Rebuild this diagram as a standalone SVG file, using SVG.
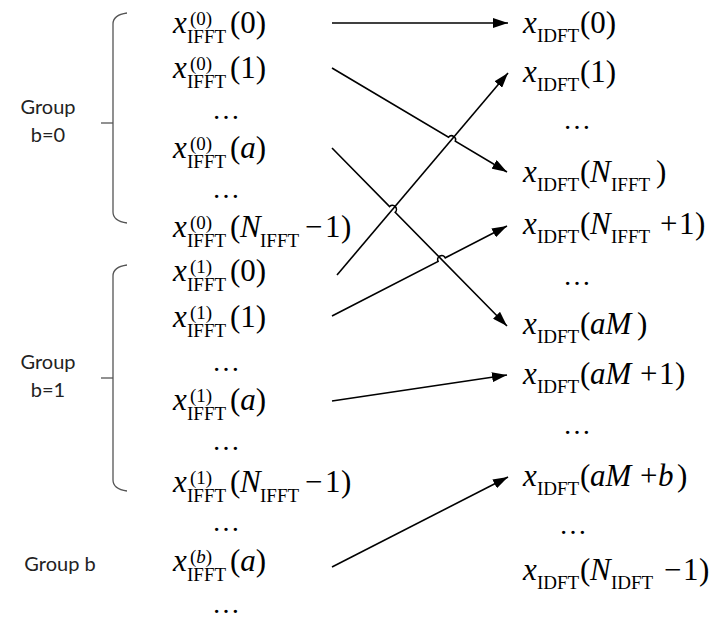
<svg xmlns="http://www.w3.org/2000/svg" width="712" height="621" viewBox="0 0 712 621">
<style>
.m{font-size:31px;fill:#000}
.s{font-size:19px;fill:#000}
.i{font-style:italic}
.d{font-size:28px;fill:#000;text-anchor:middle}
.g{font-size:20px;fill:#222;text-anchor:middle}
.br{fill:none;stroke:#555;stroke-width:1.3}
.c{fill:none;stroke:#000;stroke-width:1.6}
</style>
<defs>
<marker id="ah" markerUnits="userSpaceOnUse" markerWidth="16" markerHeight="10" refX="15" refY="5" orient="auto">
<path d="M0,0 L15,5 L0,10 z" fill="#000"/>
</marker>
</defs>
<rect width="712" height="621" fill="#fff"/>

<g id="group0" font-family="Lato, Open Sans, sans-serif">
<path class="br" d="M127,13 Q113,15 113,24 L113,212 Q113,221 127,223"/>
<line class="br" x1="101" y1="123" x2="113" y2="123"/>
<text class="g" x="48" y="114">Group</text>
<text class="g" x="48" y="142">b=0</text>
</g>
<g id="group1" font-family="Lato, Open Sans, sans-serif">
<path class="br" d="M127,265 Q113,267 113,276 L113,480 Q113,489 127,491"/>
<line class="br" x1="101" y1="378" x2="113" y2="378"/>
<text class="g" x="48" y="369">Group</text>
<text class="g" x="48" y="397">b=1</text>
</g>
<g id="groupb" font-family="Lato, Open Sans, sans-serif">
<text class="g" x="60" y="571">Group b</text>
</g>

<g font-family="Liberation Serif, Times New Roman, serif">
<g id="L0_0"><text class="m i" x="173" y="33">x</text><text class="s" x="190" y="25">(0)</text><text class="s" x="187" y="43">IFFT</text><text class="m" x="230" y="33">(0)</text></g>
<g id="L0_1"><text class="m i" x="173" y="78">x</text><text class="s" x="190" y="70">(0)</text><text class="s" x="187" y="88">IFFT</text><text class="m" x="230" y="78">(1)</text></g>
<text class="d" x="226" y="119">…</text>
<g id="L0_a"><text class="m i" x="173" y="158">x</text><text class="s" x="190" y="150">(0)</text><text class="s" x="187" y="168">IFFT</text><text class="m" x="230" y="158">(<tspan class="i">a</tspan>)</text></g>
<text class="d" x="226" y="198">…</text>
<g id="L0_N"><text class="m i" x="173" y="237">x</text><text class="s" x="190" y="229">(0)</text><text class="s" x="187" y="247">IFFT</text><text class="m" x="230" y="237">(</text><text class="m i" x="240" y="237">N</text><text class="s" x="260" y="247">IFFT</text><text class="m" x="305" y="237">−</text><text class="m" x="325" y="237">1</text><text class="m" x="341" y="237">)</text></g>

<g id="L1_0"><text class="m i" x="173" y="281">x</text><text class="s" x="190" y="273">(1)</text><text class="s" x="187" y="291">IFFT</text><text class="m" x="230" y="281">(0)</text></g>
<g id="L1_1"><text class="m i" x="173" y="327">x</text><text class="s" x="190" y="319">(1)</text><text class="s" x="187" y="337">IFFT</text><text class="m" x="230" y="327">(1)</text></g>
<text class="d" x="226" y="371">…</text>
<g id="L1_a"><text class="m i" x="173" y="410">x</text><text class="s" x="190" y="402">(1)</text><text class="s" x="187" y="420">IFFT</text><text class="m" x="230" y="410">(<tspan class="i">a</tspan>)</text></g>
<text class="d" x="226" y="450">…</text>
<g id="L1_N"><text class="m i" x="173" y="492">x</text><text class="s" x="190" y="484">(1)</text><text class="s" x="187" y="502">IFFT</text><text class="m" x="230" y="492">(</text><text class="m i" x="240" y="492">N</text><text class="s" x="260" y="502">IFFT</text><text class="m" x="305" y="492">−</text><text class="m" x="325" y="492">1</text><text class="m" x="341" y="492">)</text></g>
<text class="d" x="226" y="531">…</text>
<g id="Lb_a"><text class="m i" x="173" y="571">x</text><text class="s" x="190" y="563">(<tspan class="i">b</tspan>)</text><text class="s" x="187" y="581">IFFT</text><text class="m" x="230" y="571">(<tspan class="i">a</tspan>)</text></g>
<text class="d" x="226" y="613">…</text>

<g id="R0"><text class="m i" x="523" y="33">x</text><text class="s" x="537" y="42">IDFT</text><text class="m" x="580" y="33">(0)</text></g>
<g id="R1"><text class="m i" x="523" y="82">x</text><text class="s" x="537" y="91">IDFT</text><text class="m" x="580" y="82">(1)</text></g>
<text class="d" x="577" y="129">…</text>
<g id="RN"><text class="m i" x="523" y="182">x</text><text class="s" x="537" y="191">IDFT</text><text class="m" x="580" y="182">(</text><text class="m i" x="590" y="182">N</text><text class="s" x="611" y="191">IFFT</text><text class="m" x="656" y="182">)</text></g>
<g id="RN1"><text class="m i" x="523" y="234">x</text><text class="s" x="537" y="243">IDFT</text><text class="m" x="580" y="234">(</text><text class="m i" x="590" y="234">N</text><text class="s" x="611" y="243">IFFT</text><text class="m" x="660" y="234">+</text><text class="m" x="679" y="234">1</text><text class="m" x="695" y="234">)</text></g>
<text class="d" x="577" y="285">…</text>
<g id="RaM"><text class="m i" x="523" y="334">x</text><text class="s" x="537" y="343">IDFT</text><text class="m" x="580" y="334">(</text><text class="m i" x="590" y="334">aM</text><text class="m" x="637" y="334">)</text></g>
<g id="RaM1"><text class="m i" x="523" y="384">x</text><text class="s" x="537" y="393">IDFT</text><text class="m" x="580" y="384">(</text><text class="m i" x="590" y="384">aM</text><text class="m" x="640" y="384">+</text><text class="m" x="659" y="384">1</text><text class="m" x="675" y="384">)</text></g>
<text class="d" x="577" y="434">…</text>
<g id="RaMb"><text class="m i" x="523" y="486">x</text><text class="s" x="537" y="495">IDFT</text><text class="m" x="580" y="486">(</text><text class="m i" x="590" y="486">aM</text><text class="m" x="640" y="486">+</text><text class="m i" x="658" y="486">b</text><text class="m" x="677" y="486">)</text></g>
<text class="d" x="573" y="534">…</text>
<g id="RNm"><text class="m i" x="523" y="580">x</text><text class="s" x="537" y="589">IDFT</text><text class="m" x="580" y="580">(</text><text class="m i" x="590" y="580">N</text><text class="s" x="611" y="589">IDFT</text><text class="m" x="664" y="580">−</text><text class="m" x="683" y="580">1</text><text class="m" x="699" y="580">)</text></g>
</g>

<g id="connectors">
<path class="c" marker-end="url(#ah)" d="M332,23 L508,23"/>
<path class="c" marker-end="url(#ah)" d="M332,68 L448.5,137.2 A4,4 0 0 1 455.3,141.2 L507,172"/>
<path class="c" marker-end="url(#ah)" d="M332,148 L389.6,206.5 A4,4 0 0 1 395.2,212.3 L507,326"/>
<path class="c" marker-end="url(#ah)" d="M337,275 L508,73"/>
<path class="c" marker-end="url(#ah)" d="M332,316 L438.1,261.4 A4,4 0 0 1 445.3,257.8 L507,226"/>
<path class="c" marker-end="url(#ah)" d="M332,401 L507,375"/>
<path class="c" marker-end="url(#ah)" d="M332,567 L508,477"/>
</g>
</svg>
